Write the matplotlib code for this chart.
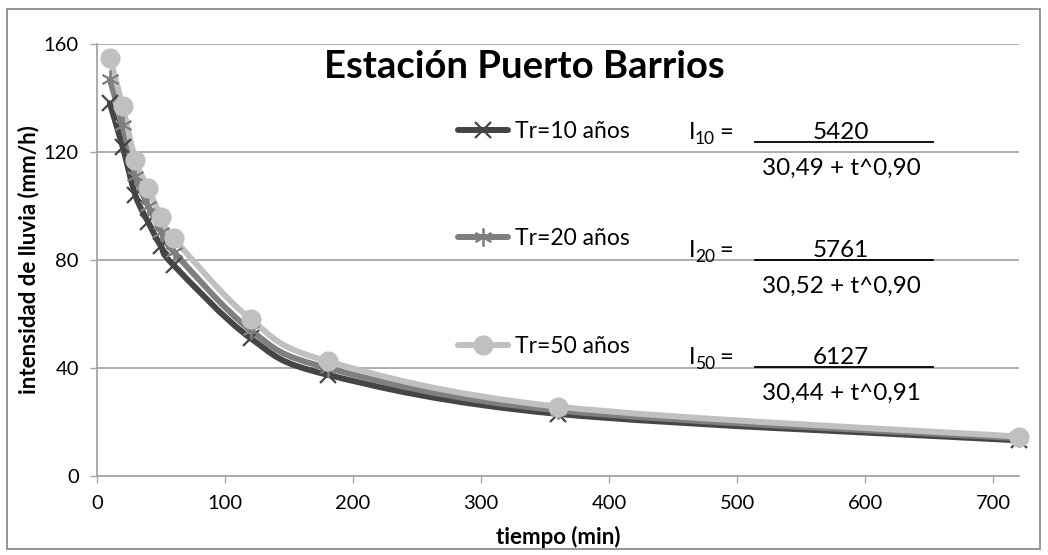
import numpy as np
import matplotlib
matplotlib.use("Agg")
import matplotlib.pyplot as plt
from matplotlib.path import Path
from matplotlib.patches import PathPatch, Rectangle
from matplotlib.lines import Line2D

plt.rcParams['font.family'] = ['Lato', 'DejaVu Sans']

# data
tiempo = [10, 20, 30, 40, 50, 60, 120, 180, 360, 720]
tr10 = [138, 122, 104, 94, 85, 78, 51, 37.5, 23, 13.2]
tr20 = [147, 130, 111, 100, 90.5, 83, 54, 40, 24.3, 14]
tr50 = [155, 137, 117, 106.5, 96, 88, 58, 42.5, 25.7, 14.6]

series_names = ['Tr=10 años', 'Tr=20 años', 'Tr=50 años']
eq_sub = ['10', '20', '50']
eq_num = ['5420', '5761', '6127']
eq_den = ['30,49 + t^0,90', '30,52 + t^0,90', '30,44 + t^0,91']

W, H = 1048, 555


def fx(x):
    return x / W


def fy(y):
    return 1 - y / H


def smooth(x, y):
    # excel-like smoothed line through the points (bezier)
    p = np.column_stack([x, y]).astype(float)
    n = len(p)
    verts = [p[0]]
    codes = [Path.MOVETO]
    for i in range(n - 1):
        p0 = p[max(i - 1, 0)]
        p1 = p[i]
        p2 = p[i + 1]
        p3 = p[min(i + 2, n - 1)]
        verts += [p1 + (p2 - p0) / 6, p2 - (p3 - p1) / 6, p2]
        codes += [Path.CURVE4] * 3
    return Path(verts, codes)


fig = plt.figure(figsize=(W / 100, H / 100), dpi=100)
ax = fig.add_axes([fx(97), fy(476), (1019 - 97) / W, (476 - 44) / H])

grid_c = '#a6a6a6'
styles = [
    dict(color='#454545', marker='x', ms=12, mew=1.6, mfc='none'),
    dict(color='#7f7f7f', marker=(6, 2, 0), ms=13, mew=1.3, mfc='none'),
    dict(color='#c0c0c0', marker='o', ms=14.5, mew=0, mfc='#c0c0c0'),
]

for vals, st in zip([tr10, tr20, tr50], styles):
    patch = PathPatch(smooth(tiempo, vals), fill=False, edgecolor=st['color'],
                      lw=4.3, capstyle='round', joinstyle='round', zorder=3)
    ax.add_patch(patch)
    ax.plot(tiempo, vals, linestyle='none', marker=st['marker'], ms=st['ms'],
            mew=st['mew'], mec=st['color'], mfc=st['mfc'], zorder=4,
            clip_on=False)

ax.set_xlim(0, 720)
ax.set_ylim(0, 160)
ax.set_xticks(range(0, 701, 100))
ax.set_yticks(range(0, 161, 40))
ax.yaxis.grid(True, color=grid_c, lw=1.3)
ax.set_axisbelow(True)
for s in ['top', 'right']:
    ax.spines[s].set_visible(False)
for s in ['left', 'bottom']:
    ax.spines[s].set_color(grid_c)
    ax.spines[s].set_linewidth(1.3)
ax.tick_params(axis='both', direction='out', length=5, width=1, color=grid_c,
               labelsize=14.5, labelcolor='black')
ax.tick_params(axis='y', pad=8)
ax.tick_params(axis='x', pad=9)

ax.set_xlabel('tiempo (min)', fontsize=16, fontweight='bold')
ax.set_ylabel('intensidad de lluvia (mm/h)', fontsize=16, fontweight='bold')
ax.xaxis.set_label_coords(0.5, -(537 - 476) / 432, transform=ax.transAxes)
ax.xaxis.label.set_va('center')
ax.yaxis.set_label_coords(-(97 - 29) / 922, 0.5, transform=ax.transAxes)
ax.yaxis.label.set_va('center')

fig.text(fx(524), fy(78), 'Estación Puerto Barrios', fontsize=27.5,
         fontweight='bold', ha='center', va='baseline')

# legend
leg_y = [130, 237, 345]
for name, st, y in zip(series_names, styles, leg_y):
    fig.add_artist(Line2D([fx(458), fx(508)], [fy(y), fy(y)], color=st['color'],
                          lw=4.3, solid_capstyle='round'))
    fig.add_artist(Line2D([fx(483)], [fy(y)], marker=st['marker'], ms=st['ms'],
                          mew=st['mew'], mec=st['color'], mfc=st['mfc'],
                          linestyle='none'))
    fig.text(fx(515), fy(y + 8), name, fontsize=16.5, ha='left', va='baseline')

# equations
eq_base = [139, 257, 364]
for sub, num, den, b in zip(eq_sub, eq_num, eq_den, eq_base):
    fig.text(fx(689), fy(b), 'I', fontsize=17, ha='left', va='baseline')
    fig.text(fx(695), fy(b + 5), sub, fontsize=12.5, ha='left', va='baseline')
    fig.text(fx(719), fy(b), '=', fontsize=17, ha='left', va='baseline')
    fig.text(fx(841), fy(b), num, fontsize=17.5, ha='center', va='baseline')
    fig.add_artist(Line2D([fx(755), fx(933)], [fy(b + 3), fy(b + 3)],
                          color='black', lw=1.3))
    fig.text(fx(841), fy(b + 36), den, fontsize=17.5, ha='center', va='baseline')

# chart area border
fig.add_artist(Rectangle((fx(7), fy(549)), (1040 - 7) / W, (549 - 9) / H,
                         transform=fig.transFigure, fill=False,
                         edgecolor='#8c8c8c', lw=1.3))

fig.savefig('out.png', dpi=100)
